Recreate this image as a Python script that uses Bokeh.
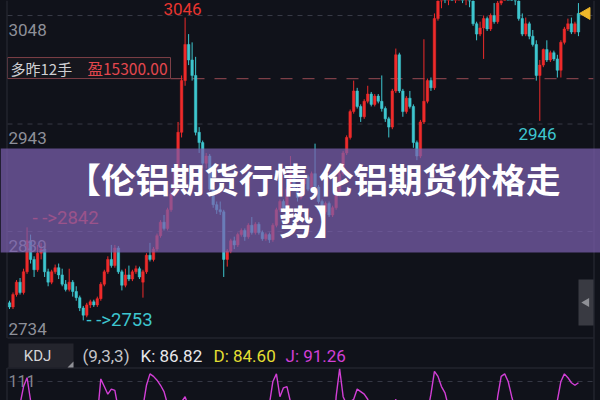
from math import pi
from bokeh.plotting import figure
from bokeh.models import ColumnDataSource, Range1d
from bokeh.core.properties import value
from bokeh.embed import file_html
from bokeh.resources import INLINE

# ---------------- data ----------------
opens = [2770, 2766, 2778, 2790, 2780, 2800, 2830, 2812, 2802, 2818,
         2822, 2800, 2790, 2800, 2804, 2797, 2788, 2783, 2790, 2781,
         2775, 2765, 2758, 2768, 2771, 2768, 2774, 2788, 2800, 2812,
         2806, 2823, 2800, 2787, 2797, 2793, 2800, 2803, 2790, 2800,
         2816, 2812, 2822, 2835, 2848, 2842, 2860, 2875, 2900, 2935,
         2985, 3020, 3005, 2990, 2935, 2925, 2905, 2912, 2880, 2865,
         2860, 2858, 2812, 2820, 2830, 2826, 2836, 2840, 2834, 2845,
         2838, 2846, 2838, 2832, 2836, 2831, 2845, 2860, 2868, 2862,
         2880, 2895, 2880, 2872, 2885, 2892, 2880, 2895, 2882, 2868,
         2858, 2866, 2855, 2862, 2875, 2895, 2915, 2930, 2955, 2975,
         2960, 2950, 2965, 2972, 2962, 2970, 2965, 2958, 2948, 2940,
         2975, 3010, 2975, 2955, 2968, 2960, 2925, 2912, 2945, 2965,
         2985, 2978, 3045, 3062, 3070, 3064, 3075, 3066, 3072, 3078,
         3064, 3074, 3062, 3040, 3030, 3036, 3045, 3035, 3048, 3042,
         3060, 3070, 3076, 3072, 3068, 3062, 3045, 3030, 3040, 3028,
         3020, 2990, 3000, 3015, 3005, 3012, 3006, 2995, 3022, 3035,
         3040, 3032, 3050]
highs = [2772, 2780, 2792, 2794, 2803, 2843, 2836, 2815, 2826, 2828,
         2824, 2803, 2802, 2807, 2808, 2803, 2792, 2803, 2792, 2786,
         2777, 2767, 2770, 2773, 2773, 2776, 2790, 2802, 2815, 2826,
         2826, 2825, 2802, 2803, 2806, 2802, 2806, 2805, 2802, 2818,
         2828, 2824, 2837, 2850, 2855, 2862, 2877, 2902, 2945, 2990,
         3046, 3030, 3022, 3008, 2940, 2927, 2915, 2914, 2884, 2868,
         2868, 2860, 2822, 2832, 2834, 2838, 2842, 2842, 2847, 2853,
         2848, 2848, 2840, 2838, 2838, 2847, 2862, 2870, 2870, 2882,
         2912, 2897, 2882, 2887, 2894, 2894, 2897, 2924, 2884, 2870,
         2868, 2868, 2864, 2877, 2897, 2917, 2932, 2957, 2985, 2978,
         2962, 2967, 2980, 2974, 2972, 2972, 2990, 2960, 2950, 2977,
         3016, 3012, 2977, 2970, 2975, 2962, 2927, 2947, 3025, 2987,
         2988, 3050, 3068, 3075, 3078, 3080, 3082, 3078, 3085, 3082,
         3080, 3076, 3064, 3042, 3042, 3048, 3047, 3050, 3060, 3062,
         3075, 3082, 3085, 3080, 3075, 3066, 3050, 3046, 3042, 3034,
         3024, 3005, 3016, 3024, 3014, 3014, 3010, 3024, 3037, 3045,
         3046, 3042, 3060]
lows = [2764, 2764, 2776, 2778, 2778, 2798, 2808, 2795, 2800, 2812,
        2795, 2786, 2788, 2798, 2793, 2786, 2781, 2781, 2776, 2772,
        2762, 2753, 2756, 2765, 2766, 2766, 2772, 2786, 2798, 2804,
        2804, 2798, 2782, 2785, 2791, 2791, 2798, 2793, 2775, 2798,
        2810, 2810, 2820, 2833, 2840, 2840, 2858, 2873, 2898, 2930,
        2980, 3000, 2985, 2932, 2915, 2900, 2900, 2878, 2862, 2856,
        2855, 2795, 2805, 2818, 2822, 2824, 2834, 2830, 2832, 2836,
        2836, 2836, 2830, 2830, 2828, 2829, 2843, 2858, 2860, 2860,
        2878, 2878, 2868, 2870, 2883, 2878, 2878, 2880, 2866, 2856,
        2856, 2853, 2853, 2860, 2873, 2893, 2913, 2928, 2953, 2958,
        2945, 2948, 2963, 2960, 2960, 2963, 2955, 2945, 2930, 2938,
        2973, 2973, 2950, 2953, 2958, 2920, 2908, 2910, 2943, 2963,
        2975, 2976, 3043, 3055, 3060, 3058, 3062, 3060, 3065, 3060,
        3058, 3056, 3038, 3024, 3028, 3006, 3033, 3033, 3040, 3040,
        3058, 3062, 3068, 3062, 3058, 3043, 3028, 3028, 3025, 3018,
        2985, 2946, 2998, 3003, 3003, 3004, 2988, 2988, 3020, 3033,
        3030, 3030, 3028]
closes = [2766, 2778, 2790, 2780, 2800, 2830, 2812, 2802, 2818, 2822,
          2800, 2790, 2800, 2804, 2797, 2788, 2783, 2790, 2781, 2775,
          2765, 2758, 2768, 2771, 2768, 2774, 2788, 2800, 2812, 2806,
          2823, 2800, 2787, 2797, 2793, 2800, 2803, 2795, 2800, 2816,
          2812, 2822, 2835, 2848, 2842, 2860, 2875, 2900, 2935, 2985,
          3020, 3005, 2990, 2935, 2925, 2905, 2912, 2880, 2865, 2860,
          2858, 2812, 2820, 2830, 2826, 2836, 2840, 2834, 2845, 2838,
          2846, 2838, 2832, 2836, 2831, 2845, 2860, 2868, 2862, 2880,
          2895, 2880, 2872, 2885, 2892, 2880, 2895, 2882, 2868, 2858,
          2866, 2855, 2862, 2875, 2895, 2915, 2930, 2955, 2975, 2960,
          2950, 2965, 2972, 2962, 2970, 2965, 2958, 2948, 2940, 2975,
          3010, 2975, 2955, 2968, 2960, 2925, 2912, 2945, 2965, 2985,
          2978, 3045, 3062, 3070, 3064, 3075, 3066, 3072, 3078, 3064,
          3074, 3062, 3040, 3030, 3036, 3045, 3035, 3048, 3042, 3060,
          3070, 3076, 3072, 3068, 3062, 3045, 3030, 3040, 3028, 3020,
          2990, 3000, 3015, 3005, 3012, 3006, 2995, 3022, 3035, 3040,
          3032, 3040, 3032]
j_values = [55, 62, 70, 82, 96, 103, 85, 68, 66, 64,
            50, 38, 36, 38, 34, 26, 20, 22, 16, 10,
            4, -2, 8, 16, 30, 72, 102, 96, 90, 94,
            93, 78, 58, 56, 52, 55, 58, 52, 80, 97,
            106, 104, 101, 97, 92, 82, 78, 76, 80, 84,
            88, 80, 70, 48, 34, 22, 20, 12, 5, 4,
            6, -5, 4, 15, 20, 30, 40, 42, 52, 55,
            60, 56, 50, 55, 82, 100, 106, 88, 95, 96,
            84, 74, 62, 66, 70, 62, 68, 64, 50, 38,
            40, 34, 40, 88, 110, 88, 82, 84, 86, 94,
            92, 90, 86, 78, 80, 76, 84, 62, 55, 78,
            86, 70, 56, 58, 54, 36, 28, 45, 62, 75,
            90, 108, 104, 96, 91, 80, 75, 78, 82, 72,
            74, 62, 45, 35, 38, 46, 44, 56, 62, 88,
            104, 106, 100, 88, 78, 60, 42, 44, 36, 28,
            16, 22, 38, 40, 48, 50, 85, 100, 106, 103,
            99, 97, 99]

price_ticks = [3048, 2943, 2839, 2734]
price_tick_labels = ["3048", "2943", "2839", "2734"]
high_mark = 3046
low_mark = 2753
recent_low = 2946
left_high = 2842
position_price = 2987
position_side = "多昨12手"
position_pnl = "盈15300.00"
last_price = 3050
kdj_top = 111
kdj_dash_level = 100
kdj_params = "(9,3,3)"
k_value, d_value, j_value_now = 86.82, 84.60, 91.26
title_lines = ["【伦铝期货行情,伦铝期货价格走", "势】"]

# ---------------- layout helpers (page pixel -> data) ----------------
W, H = 600, 400
X0, DX = 9.0, 3.512          # page x of first candle, px per candle
Y0, PY = 15.0, 1.0335        # page y of 3048, px per price unit
JY0, JPX = 367.0, 1.27       # page y of kdj_top, px per kdj unit


def xd(px):
    return (px - X0) / DX


def yd(py):
    return price_ticks[0] - (py - Y0) / PY


BG = "#10121a"
RED = "#ee2b2b"
CYAN = "#3ec6cf"
GRID = "#363945"
FRAME = "#2a2d37"
NUM = value("Roboto")
CJK = value("Noto Sans CJK SC")

idx = list(range(len(closes)))
colors = [RED if c >= o else CYAN for o, c in zip(opens, closes)]
src = ColumnDataSource(dict(
    x=idx, o=opens, h=highs, l=lows, c=closes,
    top=[max(o, c) for o, c in zip(opens, closes)],
    bot=[min(o, c) for o, c in zip(opens, closes)],
    color=colors, j=j_values))

p = figure(width=W, height=H, output_backend="svg", toolbar_location=None,
           x_range=Range1d(xd(0), xd(W)), y_range=Range1d(yd(H), yd(0)),
           x_axis_location=None, y_axis_location=None, min_border=0,
           background_fill_color=BG, border_fill_color=BG, outline_line_color=None)
p.grid.visible = False
p.extra_y_ranges = {"kdj": Range1d(start=kdj_top - (H - JY0) / JPX,
                                   end=kdj_top + JY0 / JPX)}

try:
    from bokeh.models import GlobalInlineStyleSheet
    p.stylesheets = [GlobalInlineStyleSheet(css="html, body { background-color: #10121a; }")]
except Exception:
    pass

# grid lines of price pane
p.segment(x0=[xd(7)] * 3, x1=[xd(593)] * 3, y0=price_ticks[:3], y1=price_ticks[:3],
          line_color=GRID, line_width=1, line_dash="5 5")

# position line and box
p.segment(x0=[xd(170)], x1=[xd(593)], y0=[position_price], y1=[position_price],
          line_color="#7d3f47", line_width=1.2, line_dash="12 10")
p.quad(left=[xd(7)], right=[xd(170)], top=[position_price + 21 / PY], bottom=[position_price],
       fill_color="#16161d", line_color="#7d3f47", line_width=1)
p.text(x=[xd(10)], y=[position_price + 10.5 / PY], text=[position_side], text_font=CJK,
       text_font_size="15px", text_color="#cfcfd3", text_baseline="middle")
p.text(x=[xd(87)], y=[position_price + 10.5 / PY], text=[position_pnl], text_font=CJK,
       text_font_size="15.5px", text_color="#e4474e", text_baseline="middle")

# candles
p.segment(x0="x", x1="x", y0="l", y1="h", line_color="color", line_width=1, source=src)
p.vbar(x="x", width=0.72, top="top", bottom="bot", fill_color="color", line_color="color",
       line_width=0.5, source=src)

# price axis labels (inside plot)
label_y = [t - 14 / PY for t in price_ticks[:3]] + [price_ticks[3] + 11 / PY]
p.text(x=[xd(8)] * 4, y=label_y, text=price_tick_labels, text_font=NUM, text_font_size="17px",
       text_color="#8e9099", text_baseline="middle")

# extreme markers
p.text(x=[xd(182)], y=[high_mark + 9 / PY], text=[str(high_mark)], text_font=NUM,
       text_font_size="17px", text_color="#e8352f", text_align="center", text_baseline="middle")
p.text(x=[xd(537)], y=[recent_low - 13 / PY], text=[str(recent_low)], text_font=NUM,
       text_font_size="17px", text_color=CYAN, text_align="center", text_baseline="middle")
p.text(x=[xd(86)], y=[low_mark], text=["- ->" + str(low_mark)], text_font=NUM,
       text_font_size="18.5px", text_color=CYAN, text_baseline="middle")
p.text(x=[xd(32)], y=[left_high + 10 / PY], text=["- ->" + str(left_high)], text_font=NUM,
       text_font_size="18.5px", text_color="#e8352f", text_baseline="middle")

# last price marker
p.scatter(x=[xd(586)], y=[last_price], marker="triangle", angle=pi / 2, size=12,
          fill_color="#f0b82a", line_color="#f0b82a")

# pane borders
p.segment(x0=[xd(7), xd(7)], x1=[xd(593), xd(593)], y0=[yd(337.5), yd(367.5)],
          y1=[yd(337.5), yd(367.5)], line_color=FRAME, line_width=1)
p.segment(x0=[xd(593.5), xd(6.5), xd(6.5)], x1=[xd(593.5), xd(6.5), xd(6.5)],
          y0=[yd(H), yd(337.5), yd(H)], y1=[yd(0), yd(0), yd(367.5)],
          line_color=FRAME, line_width=1)

# collapse button
p.quad(left=[xd(578)], right=[xd(593)], top=[yd(279)], bottom=[yd(325)],
       fill_color="#393a42", line_color=None)
p.scatter(x=[xd(586)], y=[yd(302)], marker="triangle", angle=pi / 2, size=9,
          fill_color="#8f9096", line_color=None)

# KDJ header
p.quad(left=[xd(8)], right=[xd(73)], top=[yd(343)], bottom=[yd(367)],
       fill_color="#24252d", line_color=None)
p.patch(x=[xd(67), xd(73), xd(73)], y=[yd(367), yd(361), yd(367)],
        fill_color="#8f9096", line_color=None)
p.text(x=[xd(37)], y=[yd(355)], text=["KDJ"], text_font=NUM, text_font_size="15px",
       text_color="#d4d4d6", text_align="center", text_baseline="middle")
hx = [xd(82), xd(140), xd(213), xd(285)]
htxt = [kdj_params, "K: %.2f" % k_value, "D: %.2f" % d_value, "J: %.2f" % j_value_now]
hcol = ["#c4c4c8", "#e8e8ea", "#e4df33", "#d23fd6"]
p.text(x=hx, y=[yd(355)] * 4, text=htxt, text_font=NUM, text_font_size="17px",
       text_color=hcol, text_baseline="middle")

# KDJ pane
p.segment(x0=[xd(7)], x1=[xd(593)], y0=[kdj_dash_level], y1=[kdj_dash_level],
          line_color=GRID, line_width=1, line_dash="5 5", y_range_name="kdj")
p.text(x=[xd(8)], y=[kdj_top - 13 / JPX], text=[str(kdj_top)], text_font=NUM,
       text_font_size="16px", text_color="#85878f", text_baseline="middle", y_range_name="kdj")
p.line(x="x", y="j", line_color="#d23fd6", line_width=1.4, source=src, y_range_name="kdj")

# banner
p.quad(left=[xd(0)], right=[xd(W)], top=[yd(148)], bottom=[yd(252)],
       fill_color="#7c60af", fill_alpha=0.72, line_color=None)
p.text(x=[xd(313), xd(313)], y=[yd(177), yd(219)], text=title_lines, text_font=CJK,
       text_font_style="bold", text_font_size="34.5px", text_color="#ffffff",
       text_align="center", text_baseline="middle")

open("out.html", "w").write(file_html(p, INLINE))
